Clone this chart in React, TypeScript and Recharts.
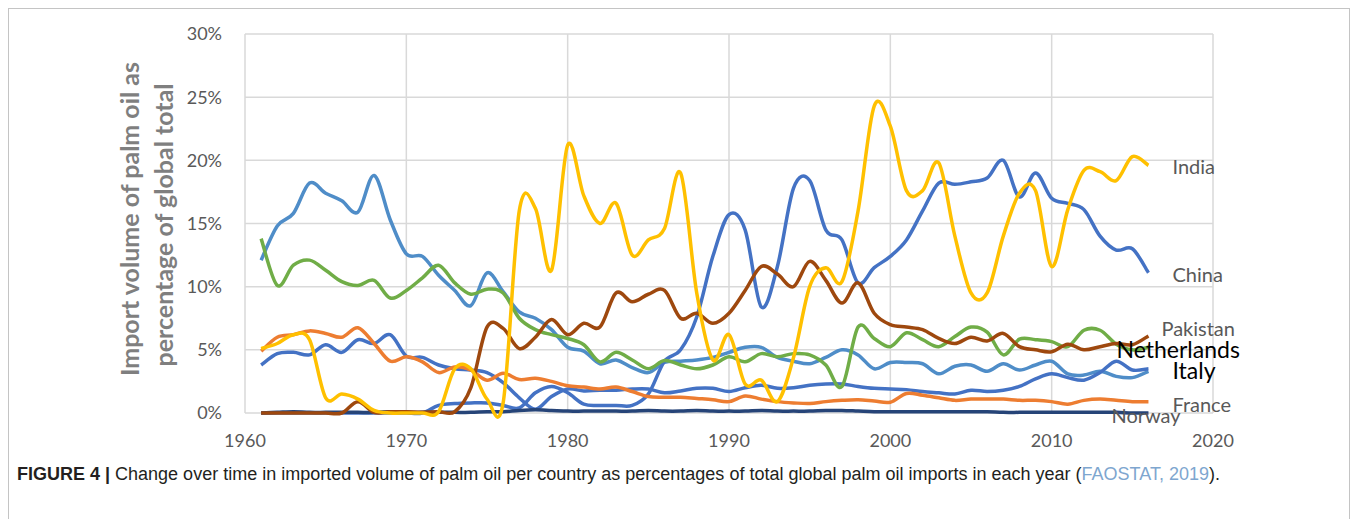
import React from "react";
import { LineChart, Line, XAxis, YAxis, CartesianGrid } from "recharts";

const years = [
  1961, 1962, 1963, 1964, 1965, 1966, 1967, 1968, 1969, 1970,
  1971, 1972, 1973, 1974, 1975, 1976, 1977, 1978, 1979, 1980,
  1981, 1982, 1983, 1984, 1985, 1986, 1987, 1988, 1989, 1990,
  1991, 1992, 1993, 1994, 1995, 1996, 1997, 1998, 1999, 2000,
  2001, 2002, 2003, 2004, 2005, 2006, 2007, 2008, 2009, 2010,
  2011, 2012, 2013, 2014, 2015, 2016,
];

const india = [
  5.1, 5.5, 6.2, 5.8, 1.2, 1.5, 1.1, 0.2, 0.0, 0.0,
  0.0, 0.1, 3.5, 3.5, 1.1, 0.8, 16.0, 16.2, 11.3, 21.2,
  17.2, 15.0, 16.6, 12.5, 13.7, 14.6, 19.0, 9.5, 4.2, 6.2,
  2.3, 2.6, 0.9, 4.4, 10.0, 11.5, 10.4, 16.0, 24.3, 22.7,
  17.6, 17.6, 19.8, 14.0, 9.5, 9.5, 14.0, 17.4, 17.6, 11.6,
  16.1, 19.2, 19.1, 18.4, 20.3, 19.6,
];

const china = [
  0, 0, 0, 0, 0, 0, 0, 0, 0, 0,
  0.0, 0.6, 0.75, 0.8, 0.8, 0.6, 0.4, 1.6, 2.1, 1.6,
  0.7, 0.6, 0.6, 0.6, 1.5, 4.1, 5.0, 7.6, 12.4, 15.7,
  14.5, 8.4, 11.6, 17.8, 18.4, 14.5, 13.7, 10.3, 11.5, 12.4,
  13.7, 16.0, 18.2, 18.1, 18.3, 18.6, 20.0, 17.1, 19.0, 17.0,
  16.6, 16.1, 14.0, 12.9, 13.0, 11.1,
];

const pakistan = [
  13.8, 10.1, 11.7, 12.1, 11.3, 10.4, 10.1, 10.5, 9.1, 9.7,
  10.7, 11.7, 10.3, 9.4, 9.8, 9.5, 7.5, 6.6, 6.2, 5.9,
  5.4, 4.05, 4.8, 4.2, 3.5, 4.15, 3.8, 3.5, 3.8, 4.45,
  4.05, 4.7, 4.45, 4.7, 4.6, 3.8, 2.1, 6.8, 5.9, 5.25,
  6.35, 5.8, 5.25, 6.05, 6.8, 6.4, 4.6, 5.85, 5.8, 5.65,
  5.25, 6.55, 6.55, 5.45, 5.0, 5.2,
];

const netherlands = [
  0, 0, 0, 0, 0, 0, 0.9, 0.05, 0.1, 0.1,
  0.05, 0.1, 0.1, 2.0, 6.8, 6.7, 5.1, 6.0, 7.4, 6.2,
  7.1, 6.8, 9.5, 8.8, 9.4, 9.7, 7.5, 7.9, 7.1, 7.9,
  9.7, 11.6, 11.0, 10.0, 12.0, 10.5, 8.7, 10.3, 7.9, 7.0,
  6.8, 6.6, 5.9, 5.5, 6.0, 5.7, 6.3, 5.25, 5.0, 4.85,
  5.45, 5.0, 5.25, 5.5, 5.4, 6.1,
];

const italy = [
  12.1, 14.8, 15.8, 18.2, 17.4, 16.8, 15.9, 18.8, 15.3, 12.6,
  12.4, 10.9, 9.7, 8.5, 11.1, 9.6, 8.0, 7.5, 6.6, 5.2,
  4.9, 3.9, 4.2, 3.6, 3.2, 4.0, 4.1, 4.2, 4.4, 4.8,
  5.2, 5.2, 4.4, 4.1, 3.9, 4.4, 5.0, 4.6, 3.5, 4.0,
  4.0, 3.9, 3.1, 3.7, 3.8, 3.3, 3.9, 3.4, 3.8, 4.1,
  3.1, 3.0, 3.3, 2.9, 2.8, 3.3,
];

const unlabelled = [
  3.8, 4.7, 4.8, 4.6, 5.4, 4.8, 5.8, 5.5, 6.2, 4.5,
  4.4, 3.8, 3.5, 3.4, 3.2, 2.4, 1.2, 0.3, 1.3, 1.9,
  1.75, 1.8, 1.8, 1.9, 1.9, 1.6, 1.75, 1.95, 1.95, 1.7,
  2.0, 2.2, 1.95, 2.0, 2.2, 2.3, 2.3, 2.1, 1.95, 1.9,
  1.85, 1.7, 1.6, 1.5, 1.8, 1.7, 1.8, 2.1, 2.7, 3.1,
  2.8, 2.6, 3.2, 4.1, 3.4, 3.5,
];

const france = [
  4.9, 6.0, 6.2, 6.5, 6.3, 6.0, 6.75, 5.5, 4.1, 4.45,
  4.05, 3.2, 3.65, 3.4, 2.6, 3.15, 2.65, 2.75, 2.5, 2.15,
  2.05, 1.9, 2.05, 1.7, 1.3, 1.25, 1.25, 1.15, 1.05, 0.9,
  1.35, 1.1, 0.9, 0.8, 0.75, 0.9, 1.0, 1.05, 0.95, 0.85,
  1.55, 1.4, 1.2, 1.0, 1.1, 1.1, 1.1, 1.0, 1.0, 0.9,
  0.7, 1.0, 1.1, 1.0, 0.9, 0.9,
];

const norway = [
  0.0, 0.05, 0.1, 0.05, 0.05, 0.05, 0.05, 0.05, 0.1, 0.05,
  0.05, 0.05, 0.05, 0.05, 0.1, 0.1, 0.2, 0.25, 0.2, 0.15,
  0.15, 0.15, 0.15, 0.15, 0.2, 0.15, 0.15, 0.2, 0.15, 0.15,
  0.15, 0.2, 0.15, 0.15, 0.15, 0.2, 0.2, 0.15, 0.1, 0.1,
  0.1, 0.1, 0.1, 0.1, 0.1, 0.1, 0.05, 0.05, 0.05, 0.05,
  0.05, 0.05, 0.05, 0.05, 0.0, 0.0,
];

const xTicks = [1960, 1970, 1980, 1990, 2000, 2010, 2020];
const yTicks = [0, 5, 10, 15, 20, 25, 30];

const data = years.map((year, i) => ({
  year,
  india: india[i],
  china: china[i],
  pakistan: pakistan[i],
  netherlands: netherlands[i],
  italy: italy[i],
  unlabelled: unlabelled[i],
  france: france[i],
  norway: norway[i],
}));

// Excel-style smoothed line (Catmull-Rom through every point)
const excelSmooth = (context: any) => {
  let pts: number[][] = [];
  return {
    areaStart() {},
    areaEnd() {},
    lineStart() {
      pts = [];
    },
    point(x: number, y: number) {
      pts.push([+x, +y]);
    },
    lineEnd() {
      if (!pts.length) return;
      context.moveTo(pts[0][0], pts[0][1]);
      for (let i = 0; i < pts.length - 1; i++) {
        const p0 = pts[Math.max(i - 1, 0)];
        const p1 = pts[i];
        const p2 = pts[i + 1];
        const p3 = pts[Math.min(i + 2, pts.length - 1)];
        context.bezierCurveTo(
          p1[0] + (p2[0] - p0[0]) / 6,
          p1[1] + (p2[1] - p0[1]) / 6,
          p2[0] - (p3[0] - p1[0]) / 6,
          p2[1] - (p3[1] - p1[1]) / 6,
          p2[0],
          p2[1]
        );
      }
    },
  };
};

const GREY = "#595959";
const FONT = "Lato, 'Open Sans', sans-serif";

// drawn bottom to top
const series = [
  { key: "italy", color: "#4F8DC8", name: "Italy", dx: 24, dy: -1, fill: "#000", size: 23 },
  { key: "unlabelled", color: "#4472C4", name: "", dx: 0, dy: 0, fill: GREY, size: 20 },
  { key: "china", color: "#4472C4", name: "China", dx: 24, dy: 1, fill: GREY, size: 20 },
  { key: "pakistan", color: "#70AD47", name: "Pakistan", dx: 13, dy: -19, fill: GREY, size: 20 },
  { key: "france", color: "#ED7D31", name: "France", dx: 24, dy: 2, fill: GREY, size: 20 },
  { key: "norway", color: "#264478", name: "Norway", dx: -37, dy: 2, fill: GREY, size: 20 },
  { key: "netherlands", color: "#9E480E", name: "Netherlands", dx: -32, dy: 13, fill: "#000", size: 23 },
  { key: "india", color: "#FFC000", name: "India", dx: 24, dy: 1, fill: GREY, size: 20 },
];

const endLabel = (s: (typeof series)[number]) => (props: any) => {
  if (!s.name || props.index !== years.length - 1) return null;
  return (
    <text
      key={s.key + "-end"}
      x={props.x + s.dx}
      y={props.y + s.dy}
      fill={s.fill}
      fontSize={s.size}
      fontFamily={FONT}
      dominantBaseline="central"
    >
      {s.name}
    </text>
  );
};

export default function App() {
  return (
    <div>
      <div
        style={{
          position: "absolute",
          left: 8,
          top: 8,
          width: 1342,
          height: 511,
          boxSizing: "border-box",
          border: "1px solid #c4c4c4",
          borderBottom: "none",
        }}
      />
      <div style={{ position: "absolute", left: 0, top: 0 }}>
        <LineChart
          width={1357}
          height={470}
          data={data}
          margin={{ top: 34, right: 144, bottom: 27, left: 100 }}
        >
          <CartesianGrid stroke="#d9d9d9" strokeWidth={1.5} />
          <XAxis
            dataKey="year"
            type="number"
            domain={[1960, 2020]}
            ticks={xTicks}
            axisLine={false}
            tickLine={false}
            tickMargin={15}
            tick={{ fill: GREY, fontSize: 18, fontFamily: FONT }}
          />
          <YAxis
            width={145}
            domain={[0, 30]}
            ticks={yTicks}
            axisLine={false}
            tickLine={false}
            tickMargin={17}
            tickFormatter={(v: number) => `${v}%`}
            tick={{ fill: GREY, fontSize: 18, fontFamily: FONT }}
          />
          {series.map((s) => (
            <Line
              key={s.key}
              dataKey={s.key}
              type={excelSmooth as any}
              stroke={s.color}
              strokeWidth={3.5}
              dot={false}
              activeDot={false}
              isAnimationActive={false}
              label={endLabel(s)}
            />
          ))}
        </LineChart>
      </div>
      <svg
        width={220}
        height={470}
        style={{ position: "absolute", left: 0, top: 0 }}
      >
        <text
          transform="translate(129,219) rotate(-90)"
          textAnchor="middle"
          dominantBaseline="central"
          fill="#7f7f7f"
          fontSize={25}
          fontWeight={700}
          fontFamily={FONT}
        >
          Import volume of palm oil as
        </text>
        <text
          transform="translate(163,225) rotate(-90)"
          textAnchor="middle"
          dominantBaseline="central"
          fill="#7f7f7f"
          fontSize={25}
          fontWeight={700}
          fontFamily={FONT}
        >
          percentage of global total
        </text>
      </svg>
      <div
        style={{
          position: "absolute",
          left: 17,
          top: 465,
          fontFamily: "'Liberation Sans', Arial, sans-serif",
          fontSize: 18,
          lineHeight: "18px",
          color: "#231f20",
          whiteSpace: "nowrap",
        }}
      >
        <b>FIGURE 4 |</b> Change over time in imported volume of palm oil per country as
        percentages of total global palm oil imports in each year (
        <span style={{ color: "#7ea6cf" }}>FAOSTAT, 2019</span>).
      </div>
    </div>
  );
}
